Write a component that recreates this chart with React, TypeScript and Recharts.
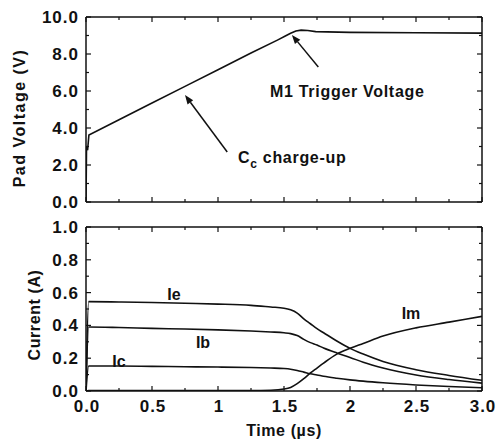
import React from "react";
import { Line, LineChart, ReferenceLine, XAxis, YAxis } from "recharts";

const FONT = '"Liberation Sans", Arial, Helvetica, sans-serif';
const INK = "#111";

// axis ticks
const timeMajor = [0, 0.5, 1, 1.5, 2, 2.5, 3];
const timeLabels = ["0.0", "0.5", "1", "1.5", "2", "2.5", "3.0"];
const timeMinor = [0.25, 0.75, 1.25, 1.75, 2.25, 2.75];

const voltMajor = [0, 2, 4, 6, 8, 10];
const voltLabels = ["0.0", "2.0", "4.0", "6.0", "8.0", "10.0"];
const voltMinor = [1, 3, 5, 7, 9];

const currMajor = [0, 0.2, 0.4, 0.6, 0.8, 1.0];
const currLabels = ["0.0", "0.2", "0.4", "0.6", "0.8", "1.0"];
const currMinor = [0.1, 0.3, 0.5, 0.7, 0.9];

// pad voltage (V) vs time (us)
const timeV = [0, 0.004, 0.012, 0.022, 0.25, 0.5, 0.75, 1.0, 1.25, 1.45, 1.51, 1.55, 1.59, 1.63, 1.68, 1.74, 2.0, 2.5, 3.0];
const padVoltage = [0, 3.0, 2.8, 3.62, 4.45, 5.35, 6.25, 7.15, 8.05, 8.75, 8.97, 9.12, 9.24, 9.29, 9.27, 9.21, 9.17, 9.15, 9.13];

// currents (A) vs time (us)
const timeI = [0, 0.02, 0.25, 0.5, 0.75, 1.0, 1.25, 1.4, 1.5, 1.55, 1.6, 1.65, 1.7, 1.75, 1.8, 1.9, 2.0, 2.1, 2.25, 2.5, 2.75, 3.0];
const ie = [0, 0.545, 0.543, 0.54, 0.535, 0.53, 0.522, 0.512, 0.505, 0.495, 0.475, 0.44, 0.41, 0.38, 0.355, 0.305, 0.26, 0.225, 0.18, 0.13, 0.095, 0.065];
const ib = [0, 0.39, 0.387, 0.382, 0.378, 0.373, 0.366, 0.36, 0.355, 0.35, 0.338, 0.315, 0.295, 0.28, 0.262, 0.232, 0.205, 0.175, 0.14, 0.098, 0.07, 0.048];
const ic = [0, 0.152, 0.152, 0.15, 0.148, 0.146, 0.143, 0.14, 0.137, 0.133, 0.125, 0.115, 0.105, 0.098, 0.09, 0.078, 0.068, 0.06, 0.05, 0.037, 0.027, 0.02];
const im = [0, 0.003, 0.003, 0.003, 0.003, 0.003, 0.003, 0.005, 0.012, 0.022, 0.045, 0.075, 0.11, 0.14, 0.17, 0.225, 0.26, 0.29, 0.335, 0.385, 0.42, 0.455];

// annotation arrows, [tail, head] in data units
const triggerArrow = [{ x: 1.76, y: 7.3 }, { x: 1.56, y: 9.03 }];
const chargeArrow = [{ x: 1.07, y: 2.7 }, { x: 0.75, y: 5.78 }];

const voltData = timeV.map((t, i) => ({ t, v: padVoltage[i] }));
const currData = timeI.map((t, i) => ({ t, ie: ie[i], ib: ib[i], ic: ic[i], im: im[i] }));

const sorted = (a: number[], b: number[]) => [...a, ...b].sort((p, q) => p - q);
const timeTicks = sorted(timeMajor, timeMinor);
const voltTicks = sorted(voltMajor, voltMinor);
const currTicks = sorted(currMajor, currMinor);

type Side = "left" | "right" | "top" | "bottom";

function AxisTick(props: any) {
  const { x = 0, y = 0, payload, side, major, labels } = props as {
    x: number;
    y: number;
    payload: { value: number };
    side: Side;
    major: number[];
    labels?: string[];
  };
  const v = payload?.value ?? 0;
  const idx = major.findIndex((m) => Math.abs(m - v) < 1e-9);
  const len = idx >= 0 ? 5 : 3;
  let x2 = x;
  let y2 = y;
  if (side === "left") x2 = x + len;
  if (side === "right") x2 = x - len;
  if (side === "bottom") y2 = y - len;
  if (side === "top") y2 = y + len;
  const label = labels && idx >= 0 ? labels[idx] : null;
  const textStyle = {
    fontFamily: FONT,
    fontWeight: 700,
    fontSize: 17,
    letterSpacing: 1,
  };
  return (
    <g>
      <line x1={x} y1={y} x2={x2} y2={y2} stroke={INK} strokeWidth={1.2} />
      {label && side === "left" && (
        <text x={x - 7} y={y + 6} textAnchor="end" fill={INK} style={textStyle}>
          {label}
        </text>
      )}
      {label && side === "bottom" && (
        <text x={x + 1} y={y + 21} textAnchor="middle" fill={INK} style={textStyle}>
          {label}
        </text>
      )}
    </g>
  );
}

function Arrow(props: any) {
  const { x1, y1, x2, y2 } = props;
  const a = Math.atan2(y2 - y1, x2 - x1);
  const L = 9;
  const W = 3.5;
  const bx = x2 - L * Math.cos(a);
  const by = y2 - L * Math.sin(a);
  const pts = [
    `${x2},${y2}`,
    `${bx + W * Math.sin(a)},${by - W * Math.cos(a)}`,
    `${bx - W * Math.sin(a)},${by + W * Math.cos(a)}`,
  ].join(" ");
  return (
    <g>
      <line x1={x1} y1={y1} x2={bx} y2={by} stroke={INK} strokeWidth={1.5} />
      <polygon points={pts} fill={INK} />
    </g>
  );
}

const axisLine = { stroke: INK, strokeWidth: 1.5 };

function frame(
  xTicks: number[],
  xLabels: string[] | undefined,
  yDomain: [number, number],
  yTicks: number[],
  yMajor: number[],
  yLabels: string[],
) {
  return [
    <XAxis
      key="xb"
      xAxisId="b"
      dataKey="t"
      type="number"
      domain={[0, 3]}
      allowDataOverflow
      ticks={xTicks}
      interval={0}
      height={1}
      tickSize={0}
      tickMargin={0}
      tickLine={false}
      axisLine={axisLine}
      tick={(p: any) => <AxisTick {...p} side="bottom" major={timeMajor} labels={xLabels} />}
    />,
    <XAxis
      key="xt"
      xAxisId="t"
      orientation="top"
      dataKey="t"
      type="number"
      domain={[0, 3]}
      allowDataOverflow
      ticks={xTicks}
      interval={0}
      height={1}
      tickSize={0}
      tickMargin={0}
      tickLine={false}
      axisLine={axisLine}
      tick={(p: any) => <AxisTick {...p} side="top" major={timeMajor} />}
    />,
    <YAxis
      key="yl"
      yAxisId="l"
      type="number"
      domain={yDomain}
      allowDataOverflow
      ticks={yTicks}
      interval={0}
      width={86}
      tickSize={0}
      tickMargin={0}
      tickLine={false}
      axisLine={axisLine}
      tick={(p: any) => <AxisTick {...p} side="left" major={yMajor} labels={yLabels} />}
    />,
    <YAxis
      key="yr"
      yAxisId="r"
      orientation="right"
      type="number"
      domain={yDomain}
      allowDataOverflow
      ticks={yTicks}
      interval={0}
      width={1}
      tickSize={0}
      tickMargin={0}
      tickLine={false}
      axisLine={axisLine}
      tick={(p: any) => <AxisTick {...p} side="right" major={yMajor} />}
    />,
  ];
}

const lineProps = {
  xAxisId: "b",
  yAxisId: "l",
  stroke: INK,
  strokeWidth: 1.6,
  dot: false,
  activeDot: false,
  isAnimationActive: false,
} as const;

const txt = { fontFamily: FONT, fontWeight: 700, fill: INK } as const;

export default function App() {
  return (
    <div style={{ position: "absolute", left: 0, top: 0, width: 496, height: 443, background: "#fff" }}>
      <div style={{ position: "absolute", left: 0, top: 0 }}>
        <LineChart width={496} height={215} data={voltData} margin={{ top: 16, right: 13, bottom: 12, left: 0 }}>
          {frame(timeTicks, undefined, [0, 10], voltTicks, voltMajor, voltLabels)}
          <Line {...lineProps} type="linear" dataKey="v" />
          <ReferenceLine xAxisId="b" yAxisId="l" segment={triggerArrow} ifOverflow="visible" shape={Arrow} />
          <ReferenceLine xAxisId="b" yAxisId="l" segment={chargeArrow} ifOverflow="visible" shape={Arrow} />
        </LineChart>
      </div>
      <div style={{ position: "absolute", left: 0, top: 215 }}>
        <LineChart width={496} height={228} data={currData} margin={{ top: 11, right: 13, bottom: 51, left: 0 }}>
          {frame(timeTicks, timeLabels, [0, 1], currTicks, currMajor, currLabels)}
          <Line {...lineProps} type="monotone" dataKey="ie" />
          <Line {...lineProps} type="monotone" dataKey="ib" />
          <Line {...lineProps} type="monotone" dataKey="ic" />
          <Line {...lineProps} type="monotone" dataKey="im" />
        </LineChart>
      </div>
      <svg width={496} height={443} style={{ position: "absolute", left: 0, top: 0, pointerEvents: "none" }}>
        <text {...txt} fontSize={16} letterSpacing={1.5} textAnchor="middle" x={24.5} y={118} transform="rotate(-90 24.5 118)">
          Pad Voltage (V)
        </text>
        <text {...txt} fontSize={16} letterSpacing={0.6} textAnchor="middle" x={40} y={315} transform="rotate(-90 40 315)">
          Current (A)
        </text>
        <text {...txt} fontSize={16} letterSpacing={0.6} textAnchor="middle" x={284} y={436}>
          Time (µs)
        </text>
        <text {...txt} fontSize={16} letterSpacing={0.7} x={270} y={96.5}>
          M1 Trigger Voltage
        </text>
        <text {...txt} fontSize={16} letterSpacing={0.7} x={238} y={163}>
          C
          <tspan fontSize={12} dy={5}>c</tspan>
          <tspan dy={-5}> charge-up</tspan>
        </text>
        <text {...txt} fontSize={16} textAnchor="middle" x={174} y={300}>Ie</text>
        <text {...txt} fontSize={16} textAnchor="middle" x={203} y={348}>Ib</text>
        <text {...txt} fontSize={16} textAnchor="middle" x={119} y={366.5}>Ic</text>
        <text {...txt} fontSize={16} textAnchor="middle" x={411} y={319}>Im</text>
      </svg>
    </div>
  );
}
